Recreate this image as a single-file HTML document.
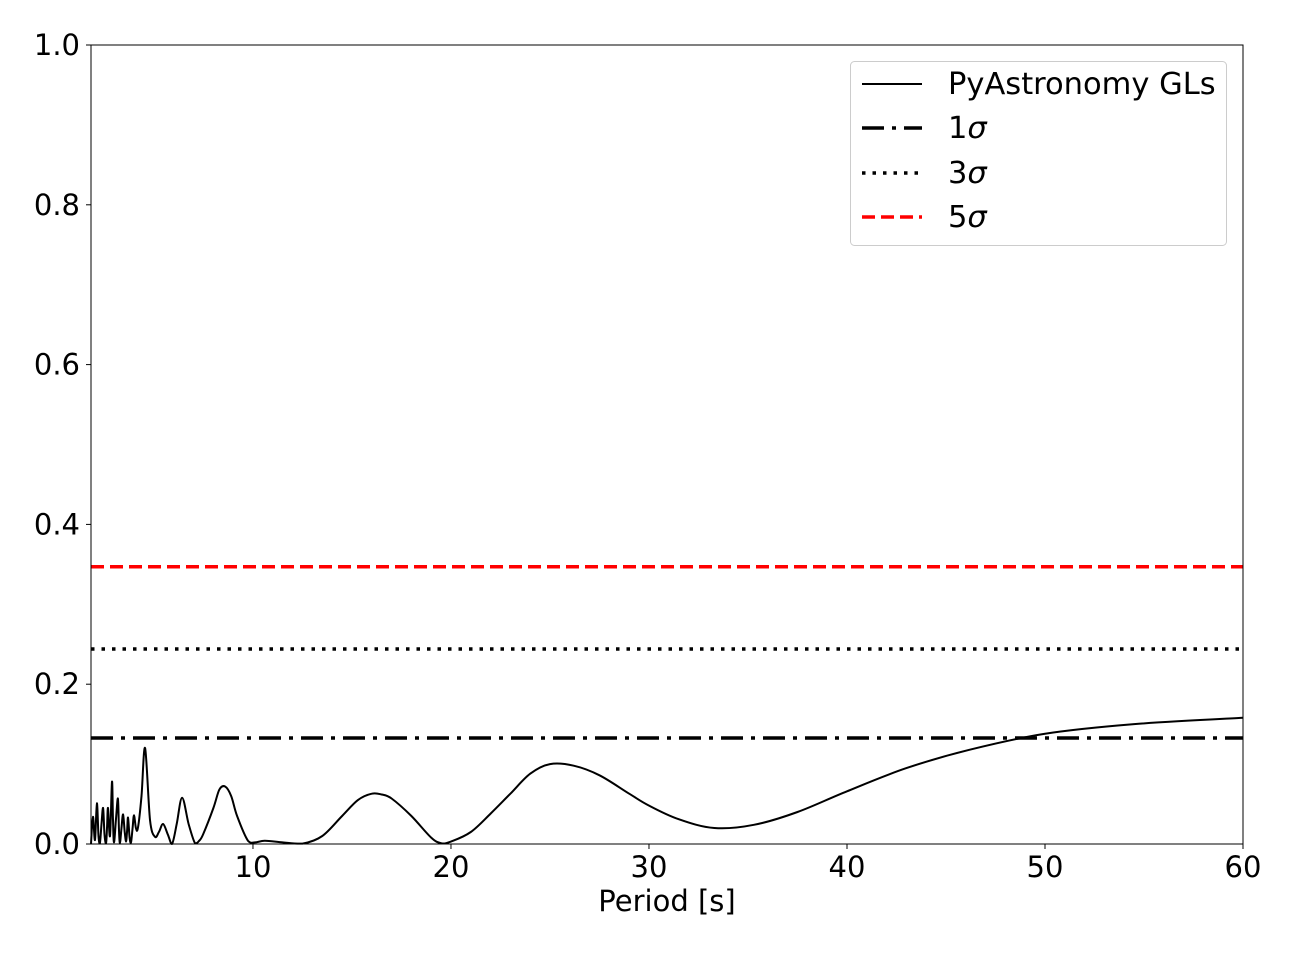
<!DOCTYPE html>
<html><head><meta charset="utf-8"><style>
body{margin:0;background:#fff;width:1295px;height:950px;overflow:hidden}
svg text{font-family:"DejaVu Sans","Liberation Sans",sans-serif;fill:#000}
</style></head><body>
<svg id="chart" width="1295" height="950" xmlns="http://www.w3.org/2000/svg"></svg>
<script>
const periods=[1.82,1.92,2.02,2.12,2.2,2.27,2.35,2.43,2.5,2.58,2.63,2.68,2.78,2.88,2.93,2.98,3.08,3.18,3.23,3.28,3.36,3.44,3.52,3.59,3.64,3.69,3.77,3.84,3.92,3.99,4.09,4.19,4.37,4.55,4.8,5.05,5.25,5.46,5.7,5.91,6.15,6.42,6.75,7.07,7.28,7.48,8.0,8.3,8.59,8.9,9.2,9.75,10.1,10.6,11.5,12.5,13.5,14.5,15.3,16,16.5,17,18,19,19.5,20,21,22,23,24,25,26.2,27.5,29,30,31.5,33.3,35.3,37.5,40,43,46.2,50,54.5,60];
const power=[0.0,0.034,0.005,0.051,0.01,0.001,0.025,0.045,0.012,0.001,0.02,0.045,0.01,0.078,0.03,0.002,0.03,0.057,0.02,0.001,0.02,0.037,0.015,0.003,0.015,0.033,0.008,0.002,0.02,0.036,0.02,0.02,0.06,0.12,0.03,0.009,0.015,0.025,0.012,0.0,0.025,0.058,0.025,0.001,0.004,0.012,0.045,0.068,0.072,0.06,0.035,0.004,0.002,0.004,0.002,0.0005,0.01,0.035,0.055,0.063,0.062,0.057,0.035,0.008,0.001,0.003,0.015,0.038,0.063,0.088,0.1,0.098,0.086,0.063,0.048,0.031,0.02,0.024,0.04,0.066,0.095,0.118,0.138,0.15,0.158];
const sigmaLabels=["1σ","3σ","5σ"];
const sigmaValues=[0.1327,0.244,0.347];
const xTicks=[10,20,30,40,50,60];
const yTicks=[0.0,0.2,0.4,0.6,0.8,1.0];
const L=91,R=1243,T=45,B=844,XMIN=1.82,XMAX=60;
const xs=v=>L+(v-XMIN)/(XMAX-XMIN)*(R-L);
const ys=v=>B-v*(B-T);
const svg=document.getElementById('chart');
const NS='http://www.w3.org/2000/svg';
function mk(tag,attrs,parent){const e=document.createElementNS(NS,tag);for(const k in attrs)e.setAttribute(k,attrs[k]);(parent||svg).appendChild(e);return e;}
const styles=[{stroke:'#000',w:3.5,dash:'22,8,4,8'},{stroke:'#000',w:3.5,dash:'3.5,7'},{stroke:'#f00',w:3.5,dash:'13,6'}];
// smooth curve (Catmull-Rom)
const P=periods.map((p,i)=>[xs(p),ys(power[i])]);
let d='M'+P[0][0].toFixed(1)+','+P[0][1].toFixed(1);
for(let i=0;i<P.length-1;i++){
 const p0=P[Math.max(0,i-1)],p1=P[i],p2=P[i+1],p3=P[Math.min(P.length-1,i+2)];
 const c1x=p1[0]+(p2[0]-p0[0])/6,c1y=Math.min(B,p1[1]+(p2[1]-p0[1])/6);
 const c2x=p2[0]-(p3[0]-p1[0])/6,c2y=Math.min(B,p2[1]-(p3[1]-p1[1])/6);
 d+=` C${c1x.toFixed(1)},${c1y.toFixed(1)} ${c2x.toFixed(1)},${c2y.toFixed(1)} ${p2[0].toFixed(1)},${p2[1].toFixed(1)}`;
}
const curve=mk('path',{d:d,fill:'none',stroke:'#000','stroke-width':2,'stroke-linejoin':'round'});


sigmaValues.forEach((v,i)=>{
 const l=mk('line',{x1:L,x2:R,y1:ys(v),y2:ys(v),stroke:styles[i].stroke,'stroke-width':styles[i].w,'stroke-dasharray':styles[i].dash});
 
 
});
const fr=mk('rect',{x:L,y:T,width:R-L,height:B-T,fill:'none',stroke:'#000','stroke-width':1});


xTicks.forEach(t=>{
 const x=xs(t);
 mk('line',{x1:x,x2:x,y1:B,y2:B+5,stroke:'#000','stroke-width':1});
 const tx=mk('text',{x:x,y:B+33,'font-size':29,'text-anchor':'middle'});tx.textContent=t;
 
 
});
yTicks.forEach(t=>{
 const y=ys(t);
 mk('line',{x1:L-5,x2:L,y1:y,y2:y,stroke:'#000','stroke-width':1});
 const tx=mk('text',{x:L-11,y:y+10,'font-size':29,'text-anchor':'end'});tx.textContent=t.toFixed(1);
 
 
});
const xt=mk('text',{x:(L+R)/2,y:911,'font-size':29,'text-anchor':'middle'});xt.textContent='Period [s]';


const lg=mk('g',{});


mk('rect',{x:850.5,y:61.5,width:376,height:184,rx:4,fill:'#fff',stroke:'#ccc','stroke-width':1},lg);
const rows=[84,128,173,217];
mk('line',{x1:862,x2:922,y1:rows[0],y2:rows[0],stroke:'#000','stroke-width':2},lg);
const t0=mk('text',{x:948,y:rows[0]+10,'font-size':30.5},lg);t0.textContent='PyAstronomy GLs';


sigmaLabels.forEach((s,i)=>{
 mk('line',{x1:862,x2:922,y1:rows[i+1],y2:rows[i+1],stroke:styles[i].stroke,'stroke-width':styles[i].w,'stroke-dasharray':styles[i].dash},lg);
 const t=mk('text',{x:948,y:rows[i+1]+10,'font-size':30.5},lg);
 t.innerHTML=s[0]+'<tspan font-style="italic">σ</tspan>';
 
 
});
</script>
</body></html>
